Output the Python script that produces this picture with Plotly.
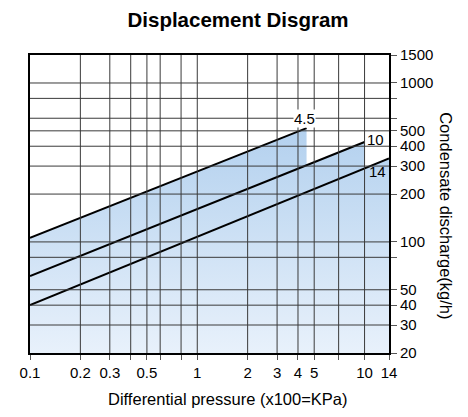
import math
import plotly.graph_objects as go

# grid / tick positions
pressure_ticks = [0.1, 0.2, 0.3, 0.4, 0.5, 0.6, 0.8, 1, 2, 3, 4, 5, 7, 10, 14]
pressure_labels = ["0.1", "0.2", "0.3", "", "0.5", "", "", "1", "2", "3", "4", "5", "", "10", "14"]
discharge_ticks = [20, 30, 40, 50, 80, 100, 200, 300, 400, 500, 600, 800, 1000, 1500]
discharge_labels = ["20", "30", "40", "50", "", "100", "200", "300", "400", "500", "", "", "1000", "1500"]

# capacity lines (start / end points), one per max pressure
line_names = ["4.5", "10", "14"]
line_x = [[0.1, 4.5], [0.1, 10], [0.1, 14]]
line_y = [[106, 520], [61, 425], [40, 335]]

y_min = 20
y_max = 1500
x_min = 0.1
x_max = 14

fig = go.Figure()

# shaded area under each line (widest first)
for xs, ys in reversed(list(zip(line_x, line_y))):
    fig.add_trace(go.Scatter(
        x=[xs[0], xs[0], xs[1], xs[1]],
        y=[y_min, ys[0], ys[1], y_min],
        mode="none",
        fill="toself",
        fillgradient=dict(type="vertical",
                          colorscale=[[0, "#e8f1fb"], [1, "#b2d0ee"]],
                          start=y_min, stop=550),
        hoverinfo="skip",
        showlegend=False,
    ))

for name, xs, ys in zip(line_names, line_x, line_y):
    fig.add_trace(go.Scatter(
        x=xs, y=ys, mode="lines",
        line=dict(color="black", width=2),
        name=name, showlegend=False,
    ))

# grid drawn on top of the shading, like the original
grid = dict(color="#3a3a3a", width=1)
for v in pressure_ticks:
    if x_min < v < x_max:
        fig.add_shape(type="line", xref="x", yref="paper", x0=v, x1=v, y0=0, y1=1,
                      line=grid, layer="above")
for v in discharge_ticks:
    if y_min < v < y_max:
        fig.add_shape(type="line", xref="paper", yref="y", x0=0, x1=1, y0=v, y1=v,
                      line=grid, layer="above")

# line labels at the end of each line (annotations use log10 units on log axes)
lbl = dict(size=15)
label_pos = [
    dict(xanchor="center", yanchor="bottom", xshift=-2, yshift=0, bgcolor="white"),
    dict(xanchor="left", yanchor="middle", xshift=1, yshift=3),
    dict(xanchor="right", yanchor="top", xshift=-2, yshift=-4),
]
for name, xs, ys, pos in zip(line_names, line_x, line_y, label_pos):
    fig.add_annotation(x=math.log10(xs[1]), y=math.log10(ys[1]), text=name,
                       showarrow=False, font=lbl, borderpad=0, **pos)

# axis titles
fig.add_annotation(xref="paper", yref="paper", x=0.551, y=-0.154,
                   text="Differential pressure (x100=KPa)", showarrow=False,
                   xanchor="center", yanchor="middle", font=dict(size=16.5))
fig.add_annotation(xref="paper", yref="paper", x=1.158, y=0.46,
                   text="Condensate discharge(kg/h)", showarrow=False,
                   textangle=90, xanchor="center", yanchor="middle",
                   font=dict(size=16.5))

# page body adds an 8px offset, so the figure is 8px smaller
fig.update_layout(
    width=460, height=409,
    margin=dict(l=20, r=79, t=47, b=64),
    paper_bgcolor="white", plot_bgcolor="white",
    font=dict(family="Liberation Sans, Arial, sans-serif", size=15, color="black"),
    title=dict(text="<b>Displacement Disgram</b>", x=0.5, xanchor="center",
               y=0.97, yanchor="middle", font=dict(size=20.5)),
)

fig.update_xaxes(
    type="log", range=[-1, math.log10(x_max)],
    tickvals=pressure_ticks, ticktext=pressure_labels,
    showgrid=False,
    showline=True, linecolor="black", linewidth=2, mirror=True,
    ticks="outside", ticklen=5, tickcolor="#555",
    zeroline=False,
)
fig.update_yaxes(
    type="log", range=[math.log10(y_min), math.log10(y_max)],
    side="right",
    tickvals=discharge_ticks, ticktext=discharge_labels,
    showgrid=False,
    showline=True, linecolor="black", linewidth=2, mirror=True,
    ticks="outside", ticklen=6, tickcolor="#555",
    zeroline=False,
)

fig.write_html("out.html")
